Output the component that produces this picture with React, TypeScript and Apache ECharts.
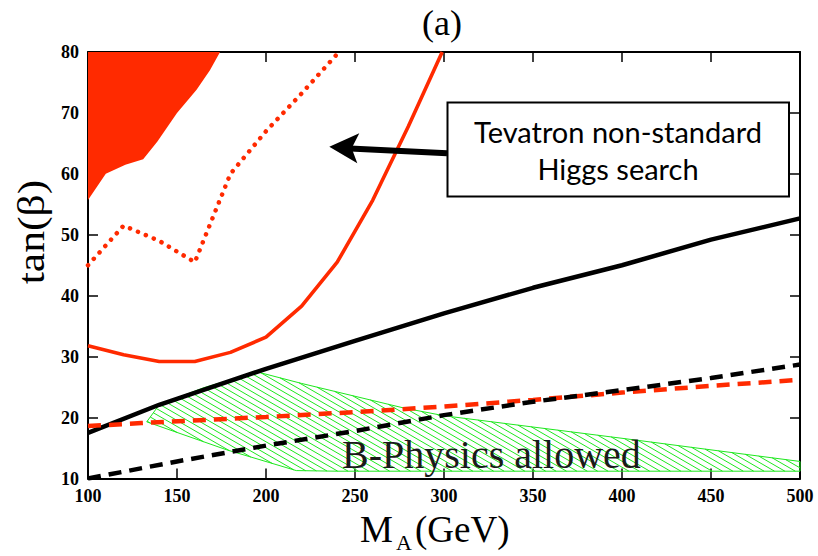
import React, { useEffect, useRef } from "react";
import * as echarts from "echarts";

// M_A (GeV) vs tan(beta) exclusion contours
const xTicks = [100, 150, 200, 250, 300, 350, 400, 450, 500];
const yTicks = [10, 20, 30, 40, 50, 60, 70, 80];

// Excluded region (filled) boundary: filled above this curve up to tan(beta)=80
const excludedFill: [number, number][] = [
  [100, 55.7], [110, 60.0], [121, 61.5], [131, 62.4], [139, 65.3],
  [150, 70.0], [161, 73.8], [168.5, 77.0], [174.2, 80.0],
];

// Dotted red contour
const redDotted: [number, number][] = [
  [100, 45.0], [120, 51.5], [140, 49.0], [160, 45.5], [180, 60.0],
  [200, 67.0], [220, 73.2], [241, 80.0],
];

// Solid red contour
const redSolid: [number, number][] = [
  [100, 31.8], [120, 30.3], [140, 29.2], [160, 29.2], [180, 30.7],
  [200, 33.2], [220, 38.3], [240, 45.5], [260, 55.7], [280, 67.8], [299, 80.0],
];

// Solid black line
const blackSolid: [number, number][] = [
  [100, 17.5], [140, 22.1], [200, 28.0], [250, 32.6], [300, 37.1],
  [350, 41.3], [400, 45.0], [450, 49.2], [500, 52.7],
];

// Dashed black line
const blackDashed: [number, number][] = [
  [100, 10.0], [150, 12.8], [200, 15.4], [250, 17.8], [300, 20.4],
  [350, 22.6], [400, 24.5], [450, 26.5], [500, 28.7],
];

// Dashed red line
const redDashed: [number, number][] = [
  [100, 18.6], [130, 19.1], [200, 20.1], [250, 20.9], [300, 21.8],
  [350, 22.9], [400, 24.1], [450, 25.2], [500, 26.2],
];

// B-physics allowed region: upper and lower edges, left to right
const bAllowedUpper: [number, number][] = [
  [133, 19.3], [140, 22.1], [165, 24.9], [195, 27.5], [220, 25.6],
  [277, 21.6], [300, 20.3], [400, 16.6], [500, 12.8],
];
const bAllowedLower: [number, number][] = [
  [133, 19.3], [178, 14.7], [217, 11.3], [240, 11.2], [500, 11.2],
];

const RED = "#ff2a00";
const GREEN = "#1ee81e";
const SERIF = "Liberation Serif";
const SANS = "Lato";

// Parallel hatch lines clipped to a polygon (even-odd rule)
function hatchLines(pts: number[][], angleDeg: number, gap: number) {
  const th = (angleDeg * Math.PI) / 180;
  const d = [Math.cos(th), Math.sin(th)];
  const n = [-Math.sin(th), Math.cos(th)];
  const proj = pts.map((p) => p[0] * n[0] + p[1] * n[1]);
  const cMin = Math.min(...proj);
  const cMax = Math.max(...proj);
  const segs: number[][] = [];
  for (let c = Math.ceil(cMin / gap) * gap; c <= cMax; c += gap) {
    const hits: number[][] = [];
    for (let i = 0; i < pts.length; i++) {
      const a = pts[i];
      const b = pts[(i + 1) % pts.length];
      const fa = a[0] * n[0] + a[1] * n[1] - c;
      const fb = b[0] * n[0] + b[1] * n[1] - c;
      if (fa < 0 !== fb < 0) {
        const t = fa / (fa - fb);
        hits.push([a[0] + t * (b[0] - a[0]), a[1] + t * (b[1] - a[1])]);
      }
    }
    hits.sort((p, q) => p[0] * d[0] + p[1] * d[1] - (q[0] * d[0] + q[1] * d[1]));
    for (let k = 0; k + 1 < hits.length; k += 2) {
      segs.push([hits[k][0], hits[k][1], hits[k + 1][0], hits[k + 1][1]]);
    }
  }
  return segs;
}

function txt(text: string, x: number, y: number, family: string, size: number, extra: any = {}, style: any = {}) {
  return {
    type: "text",
    x,
    y,
    ...extra,
    style: {
      text,
      fontFamily: family,
      fontSize: size,
      fontWeight: "normal",
      fill: "#000",
      textAlign: "left",
      textVerticalAlign: "middle",
      ...style,
    },
  };
}

export default function App() {
  const ref = useRef<HTMLDivElement>(null);

  useEffect(() => {
    if (!ref.current) return;
    const chart = echarts.init(ref.current, undefined, { renderer: "svg" });

    const axisLineStyle = { show: true, lineStyle: { color: "#000", width: 2 } };
    const tickStyle = { show: true, inside: true, length: 10, lineStyle: { color: "#000", width: 1.5 } };
    const labelStyle = {
      color: "#000",
      fontFamily: SERIF,
      fontSize: 18,
      fontWeight: "bold" as const,
    };

    const line = (data: [number, number][], color: string, width: number, type: any, z = 3) => ({
      type: "line",
      data,
      showSymbol: false,
      symbol: "none",
      z,
      lineStyle: { color, width, type, cap: Array.isArray(type) && type[0] < 1 ? "round" : "butt" },
    });

    chart.setOption({
      animation: false,
      backgroundColor: "#fff",
      grid: { left: 88, right: 18, top: 52, bottom: 77.5 },
      xAxis: [
        {
          type: "value", min: xTicks[0], max: xTicks[xTicks.length - 1], interval: 50,
          position: "bottom",
          axisLine: axisLineStyle, axisTick: tickStyle,
          axisLabel: { ...labelStyle, margin: 8 },
          splitLine: { show: false },
        },
        {
          type: "value", min: xTicks[0], max: xTicks[xTicks.length - 1], interval: 50,
          position: "top",
          axisLine: axisLineStyle, axisTick: tickStyle,
          axisLabel: { show: false }, splitLine: { show: false },
        },
      ],
      yAxis: [
        {
          type: "value", min: yTicks[0], max: yTicks[yTicks.length - 1], interval: 10,
          position: "left",
          axisLine: axisLineStyle, axisTick: tickStyle,
          axisLabel: { ...labelStyle, margin: 9 },
          splitLine: { show: false },
        },
        {
          type: "value", min: yTicks[0], max: yTicks[yTicks.length - 1], interval: 10,
          position: "right",
          axisLine: axisLineStyle, axisTick: tickStyle,
          axisLabel: { show: false }, splitLine: { show: false },
        },
      ],
      series: [
        {
          type: "custom",
          z: 1,
          data: [[300, 20]],
          renderItem: (_params: any, api: any) => {
            const poly = [...bAllowedUpper, ...bAllowedLower.slice(1).reverse()].map((p) => api.coord(p));
            const segs = hatchLines(poly, 30, 5.2);
            return {
              type: "group",
              children: [
                {
                  type: "polygon",
                  shape: { points: poly },
                  style: { fill: "none", stroke: GREEN, lineWidth: 1 },
                },
                ...segs.map((s) => ({
                  type: "line",
                  shape: { x1: s[0], y1: s[1], x2: s[2], y2: s[3] },
                  style: { stroke: GREEN, lineWidth: 1 },
                })),
              ],
            };
          },
        },
        {
          type: "line",
          data: excludedFill,
          showSymbol: false,
          symbol: "none",
          z: 2,
          lineStyle: { width: 0, color: RED },
          areaStyle: { color: RED, opacity: 1, origin: "end" },
        },
        line(redDotted, RED, 4.5, [0.1, 8.5]),
        line(redSolid, RED, 3.6, "solid"),
        line(blackSolid, "#000", 4.5, "solid"),
        line(redDashed, RED, 4.5, [13, 8]),
        line(blackDashed, "#000", 4.5, [13, 8], 4),
      ],
      graphic: [
        txt("(a)", 442, 23, SERIF, 36, {}, { textAlign: "center" }),
        txt("tan(β)", 31, 232, SERIF, 38, { rotation: Math.PI / 2, scaleX: 1.15 }, { textAlign: "center" }),
        txt("M", 360, 529, SERIF, 37),
        txt("A", 396, 542, SERIF, 22),
        txt("(GeV)", 415, 529, SERIF, 37),
        txt("B-Physics allowed", 342, 454, SERIF, 40, { z: 5 }, { fill: "#1a1a1a" }),
        // annotation box with arrow
        {
          type: "rect", z: 10,
          shape: { x: 447.5, y: 102.5, width: 341.5, height: 94 },
          style: { fill: "#fff", stroke: "#000", lineWidth: 2 },
        },
        txt("Tevatron non-standard", 618, 131, SANS, 29, { z: 11 }, { textAlign: "center" }),
        txt("Higgs search", 618, 168, SANS, 29, { z: 11 }, { textAlign: "center" }),
        {
          type: "line", z: 10,
          shape: { x1: 350, y1: 148.5, x2: 447, y2: 153.3 },
          style: { stroke: "#000", lineWidth: 6 },
        },
        {
          type: "polygon", z: 10,
          shape: { points: [[329.3, 146.7], [359.3, 133.3], [351.7, 148.3], [357.3, 163.3]] },
          style: { fill: "#000" },
        },
      ],
    });

    return () => chart.dispose();
  }, []);

  return (
    <div
      ref={ref}
      style={{ position: "fixed", left: 0, top: 0, width: 818, height: 556, background: "#fff" }}
    />
  );
}
